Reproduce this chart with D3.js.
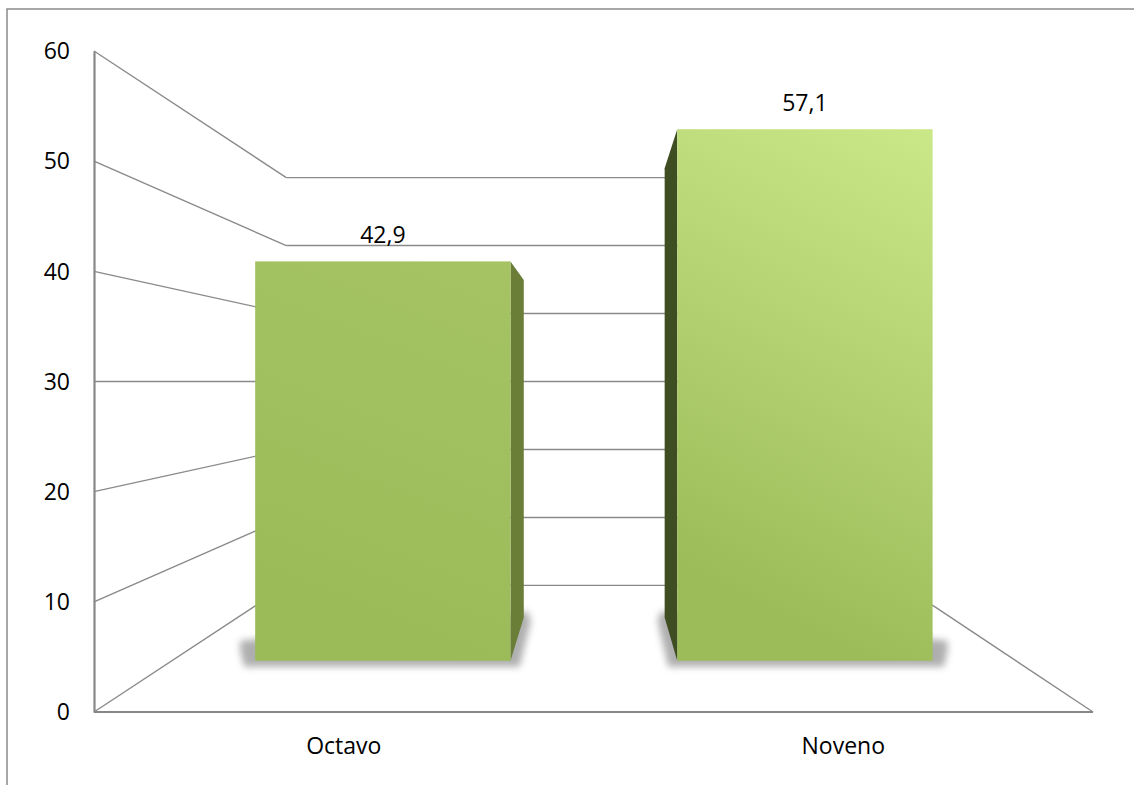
<!DOCTYPE html>
<html>
<head>
<meta charset="utf-8">
<script src="https://cdn.jsdelivr.net/npm/d3@7"></script>
<style>
  html, body { margin: 0; padding: 0; background: #fff; }
  svg { display: block; }
  text { font-family: "Open Sans", "Noto Sans", sans-serif; fill: #000; }
</style>
</head>
<body>
<svg id="chart" width="1134" height="785"></svg>
<script>
// Data
const categories = ["Octavo", "Noveno"];
const values = [42.9, 57.1];
const valueLabels = ["42,9", "57,1"];
const yTicks = [0, 10, 20, 30, 40, 50, 60];

const W = 1134, H = 785;
const svg = d3.select("#chart");

// Front plane scales
const yFront = d3.scaleLinear().domain([0, 60]).range([712, 51]);
const xFront = d3.scaleBand().domain(categories).range([94, 1093]).paddingInner(0.395).paddingOuter(0.1975);

// Perspective: points shrink toward a vanishing point with depth
const VP = [596, 381.5];
const S_BACK = 0.617;     // back wall
const S_BAR_F = 0.845;    // bar front face
const S_BAR_B = 0.714;    // bar back face
const proj = (x, y, s) => [VP[0] + (x - VP[0]) * s, VP[1] + (y - VP[1]) * s];

const defs = svg.append("defs");
const blur = defs.append("filter").attr("id", "shadowBlur")
  .attr("x", "-20%").attr("y", "-20%").attr("width", "140%").attr("height", "140%");
blur.append("feGaussianBlur").attr("stdDeviation", 3.5);

const grads = [
  { id: "gOct", top: "#a5c363", bottom: "#9bbb59" },
  { id: "gNov", top: "#cbe889", bottom: "#9cbb59" }
];
grads.forEach(g => {
  const lg = defs.append("linearGradient").attr("id", g.id)
    .attr("x1", "1").attr("y1", "0").attr("x2", "0.75").attr("y2", "1");
  lg.append("stop").attr("offset", "0").attr("stop-color", g.top);
  lg.append("stop").attr("offset", "1").attr("stop-color", g.bottom);
});
const sideColors = ["#6a7e38", "#3f4d23"];

// Chart area border
svg.append("rect").attr("x", 7).attr("y", 9).attr("width", W + 20).attr("height", H + 20)
  .attr("fill", "none").attr("stroke", "#8a8a8a").attr("stroke-width", 1.5);

const grid = svg.append("g").attr("stroke", "#8a8a8a").attr("stroke-width", 1.4).attr("fill", "none");
const x0 = xFront.range()[0], x1 = xFront.range()[1];

// Back wall gridlines
yTicks.forEach(t => {
  const a = proj(x0, yFront(t), S_BACK), b = proj(x1, yFront(t), S_BACK);
  grid.append("line").attr("x1", a[0]).attr("y1", a[1]).attr("x2", b[0]).attr("y2", b[1]);
});
// Side wall lines
yTicks.forEach(t => {
  const b = proj(x0, yFront(t), S_BACK);
  grid.append("line").attr("x1", x0).attr("y1", yFront(t)).attr("x2", b[0]).attr("y2", b[1]);
});
// Floor right edge
{
  const b = proj(x1, yFront(0), S_BACK);
  grid.append("line").attr("x1", x1).attr("y1", yFront(0)).attr("x2", b[0]).attr("y2", b[1]);
}

// Bars
categories.forEach((c, i) => {
  const v = values[i];
  const L = xFront(c), R = L + xFront.bandwidth();
  const yT = yFront(v), yB = yFront(0);
  const fTL = proj(L, yT, S_BAR_F), fTR = proj(R, yT, S_BAR_F);
  const fBL = proj(L, yB, S_BAR_F), fBR = proj(R, yB, S_BAR_F);
  const bTL = proj(L, yT, S_BAR_B), bTR = proj(R, yT, S_BAR_B);
  const bBL = proj(L, yB, S_BAR_B), bBR = proj(R, yB, S_BAR_B);
  const leftOfVP = (fTR[0] < VP[0]);

  // soft shadow under the bar
  const sh = leftOfVP
    ? [[fBL[0] - 15, fBL[1] - 10], [fBL[0] - 11, fBL[1] + 6], [fBR[0] + 9, fBR[1] + 6],
       [bBR[0] + 7, bBR[1] + 4], [bBR[0] + 4, bBR[1] - 6], [fBL[0] - 15, fBL[1] - 20]]
    : [[fBR[0] + 15, fBR[1] - 10], [fBR[0] + 11, fBR[1] + 6], [fBL[0] - 9, fBL[1] + 6],
       [bBL[0] - 7, bBL[1] + 4], [bBL[0] - 4, bBL[1] - 6], [fBR[0] + 15, fBR[1] - 20]];
  svg.append("polygon").attr("points", sh.map(p => p.join(",")).join(" "))
    .attr("fill", "#7a7a7a").attr("opacity", 0.6).attr("filter", "url(#shadowBlur)");

  // visible side face
  const side = leftOfVP ? [fTR, bTR, bBR, fBR] : [fTL, bTL, bBL, fBL];
  svg.append("polygon").attr("points", side.map(p => p.join(",")).join(" "))
    .attr("fill", sideColors[i]);

  // front face
  svg.append("rect")
    .attr("x", fTL[0]).attr("y", fTL[1])
    .attr("width", fTR[0] - fTL[0]).attr("height", fBL[1] - fTL[1])
    .attr("fill", `url(#${grads[i].id})`);

  // value label
  svg.append("text")
    .attr("x", (fTL[0] + fTR[0]) / 2).attr("y", fTL[1] - 18.5)
    .attr("text-anchor", "middle").attr("font-size", 23)
    .text(valueLabels[i]);
});

// Value axis on the front plane
const yAxis = svg.append("g").attr("transform", `translate(${x0},0)`)
  .call(d3.axisLeft(yFront).tickValues(yTicks).tickSize(0).tickSizeOuter(0).tickPadding(24));
yAxis.select(".domain").attr("stroke", "#878787").attr("stroke-width", 2.2);
yAxis.selectAll("text").attr("font-size", 23).attr("dy", "0.34em")
  .style("font-family", "'Open Sans', sans-serif").attr("fill", "#000");

// Category axis on the front floor edge
svg.append("line").attr("x1", x0).attr("y1", yFront(0)).attr("x2", x1).attr("y2", yFront(0))
  .attr("stroke", "#878787").attr("stroke-width", 2.2);
categories.forEach(c => {
  svg.append("text")
    .attr("x", xFront(c) + xFront.bandwidth() / 2).attr("y", 754)
    .attr("text-anchor", "middle").attr("font-size", 23)
    .text(c);
});
</script>
</body>
</html>
